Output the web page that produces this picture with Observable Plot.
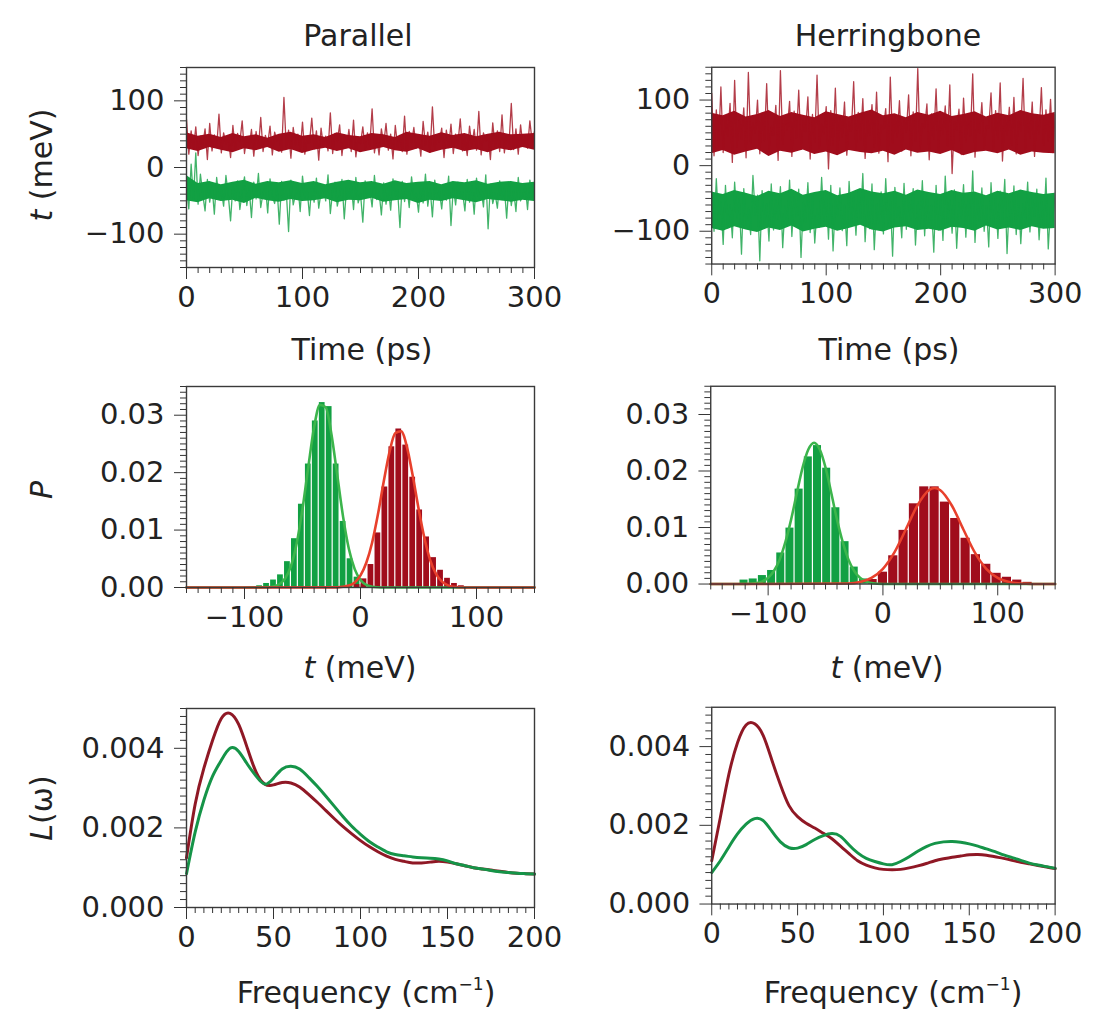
<!DOCTYPE html>
<html><head><meta charset="utf-8">
<script src="https://cdn.jsdelivr.net/npm/d3@7"></script>
<script src="https://cdn.jsdelivr.net/npm/@observablehq/plot@0.6"></script>
<style>
body{margin:0;background:#fff;}
#fig{position:relative;width:1094px;height:1012px;background:#fff;font-family:"DejaVu Sans",sans-serif;color:#222;overflow:hidden;}
.lbl{position:absolute;transform:translate(-50%,-50%);white-space:nowrap;font-size:30px;line-height:1;}
.vl{position:absolute;transform:translate(-50%,-50%) rotate(-90deg);white-space:nowrap;font-size:30px;line-height:1;}
.panel{position:absolute;}
</style></head><body><div id="fig"></div>
<script>
// ---------- Time series (t in meV), sampled every 2 ps, 0..300 ----------
const timeStep = 2;
const parRedT = [72,20,55,28,61,18,47,33,58,12,66,25,49,30,80,22,52,36,44,15,63,27,51,38,70,21,46,31,57,17,
54,29,75,24,48,35,62,19,53,40,45,23,105,30,56,14,60,34,50,26,68,20,43,37,74,28,55,11,59,32,
47,25,82,21,51,39,64,18,49,30,57,24,71,16,45,36,61,27,52,33,88,22,46,19,58,35,66,26,50,13,
63,31,48,24,77,20,54,37,60,29,45,17,69,34,53,23,91,28,47,38,59,15,56,30,65,21,50,36,73,25,
44,18,62,33,57,26,84,19,52,40,48,12,67,31,55,24,79,22,49,35,96,27,58,20,64,32,46,29,70,38,54];
const parGreenT = [-30,-62,5,-48,22,-55,-10,-40,-65,-18,-52,-28,-70,-15,-45,-33,-58,-12,-41,-80,-25,-50,-20,-63,-36,-14,-57,-31,-75,-22,
-47,-9,-60,-38,-26,-68,-17,-43,-54,-29,-85,-21,-49,-35,-96,-19,-56,-40,-27,-66,-13,-46,-33,-72,-24,-52,-16,-61,-37,-28,
-50,-11,-69,-34,-22,-58,-41,-18,-77,-30,-47,-25,-63,-15,-53,-39,-82,-20,-44,-32,-59,-12,-48,-36,-71,-23,-55,-29,-64,-17,
-42,-34,-90,-21,-51,-27,-60,-14,-46,-38,-67,-24,-53,-10,-58,-31,-74,-19,-45,-35,-62,-26,-49,-13,-87,-30,-56,-22,-43,-37,
-65,-18,-52,-28,-70,-16,-47,-33,-59,-11,-92,-25,-54,-39,-61,-20,-48,-30,-76,-23,-57,-34,-66,-15,-50,-41,-27,-63,-19,-45,-36];
const herRedT = [110,15,85,30,120,20,75,45,95,5,130,28,70,40,88,12,142,35,65,50,100,18,80,38,125,22,60,46,92,8,
145,33,72,55,98,14,83,42,115,25,68,52,105,10,78,36,138,27,63,48,90,-5,84,31,118,20,74,44,97,16,
66,53,128,24,81,39,102,11,70,47,93,29,112,19,62,56,87,6,135,34,76,43,99,22,69,51,108,15,82,37,
148,26,64,58,94,9,79,41,117,21,71,49,91,30,123,-12,67,54,86,17,103,36,77,45,140,13,73,50,96,27,
61,57,111,23,84,40,126,7,75,46,89,32,104,18,68,53,133,25,80,42,97,14,74,48,119,31,85,38,101,20,78];
const herGreenT = [-40,-100,-20,-85,-55,-120,-30,-95,-60,-110,-25,-80,-50,-135,-35,-90,-65,-105,-15,-75,-45,-145,-38,-88,-58,-115,-28,-98,-52,-82,
-32,-125,-62,-92,-22,-108,-48,-78,-36,-140,-56,-86,-26,-102,-44,-118,-66,-94,-18,-84,-42,-112,-30,-130,-54,-76,-34,-99,-60,-122,
-24,-89,-46,-106,-38,-81,-12,-116,-52,-96,-28,-128,-58,-87,-40,-104,-20,-92,-50,-138,-33,-79,-63,-110,-27,-97,-45,-83,-35,-121,
-55,-91,-23,-107,-41,-86,-60,-132,-30,-98,-48,-114,-16,-88,-52,-103,-37,-126,-57,-80,-29,-109,-43,-95,-8,-117,-50,-85,-34,-100,
-61,-124,-26,-93,-47,-111,-39,-82,-21,-134,-53,-90,-31,-105,-44,-119,-58,-87,-25,-101,-49,-77,-36,-113,-54,-94,-19,-127,-64,-84,-42];

// dense core of each trace (lower / upper edge), every 10 ps
const bandStep = 10;
const parRedLo = [28,24,30,26,22,28,25,30,23,27,21,26,29,24,28,22,26,30,25,23,28,21,26,29,24,27,22,28,25,30,26];
const parRedHi = [52,47,50,45,51,46,49,44,50,53,47,49,45,52,48,46,51,49,45,53,50,47,52,48,51,46,50,53,49,50,51];
const parGreenLo = [-50,-53,-47,-51,-49,-54,-46,-50,-52,-48,-51,-50,-47,-53,-49,-50,-46,-52,-50,-48,-54,-49,-51,-47,-50,-53,-48,-50,-52,-49,-51];
const parGreenHi = [-12,-24,-21,-26,-22,-19,-25,-21,-23,-20,-24,-21,-26,-22,-19,-23,-21,-25,-20,-24,-22,-21,-26,-21,-23,-20,-25,-22,-21,-24,-22];
const herRedLo = [18,23,16,21,25,14,22,19,24,17,21,15,23,20,18,22,16,24,19,21,17,23,15,20,22,18,24,16,21,19,18];
const herRedHi = [80,76,83,74,78,84,75,81,77,73,82,78,74,80,85,76,79,73,81,77,83,75,78,82,74,80,76,84,79,77,81];
const herGreenLo = [-96,-100,-93,-98,-102,-95,-99,-92,-101,-97,-94,-100,-96,-91,-98,-101,-95,-93,-99,-97,-100,-94,-96,-100,-92,-98,-95,-99,-93,-97,-96];
const herGreenHi = [-40,-44,-38,-42,-47,-39,-43,-36,-45,-41,-38,-46,-42,-35,-40,-43,-39,-45,-37,-41,-44,-38,-42,-40,-46,-39,-43,-37,-41,-44,-42];

// ---------- Histograms P(t) ----------
const parBinWidth = 6;
const parGreenBinC = [-87,-81,-75,-69,-63,-57,-51,-45,-39,-33,-27,-21,-15,-9,-3,3];
const parGreenBinP = [0.0003,0.0007,0.0013,0.0022,0.0045,0.0085,0.0145,0.0215,0.029,0.0322,0.0315,0.0215,0.0115,0.005,0.0018,0.0005];
const parRedBinC = [-3,3,9,15,21,27,33,39,45,51,57,63,69,75,81,87];
const parRedBinP = [0.0005,0.0015,0.004,0.0095,0.0175,0.0245,0.0276,0.0248,0.0192,0.0135,0.0088,0.0052,0.003,0.0016,0.0007,0.0003];
const herGreenBinWidth = 8;
const herGreenBinC = [-121,-113,-105,-97,-89,-81,-73,-65,-57,-49,-41,-33,-25,-17];
const herGreenBinP = [0.0007,0.0009,0.0015,0.0024,0.0055,0.0099,0.0168,0.0225,0.0245,0.0205,0.0135,0.0075,0.003,0.0009];
const herRedBinWidth = 9;
const herRedBinC = [-9,0,9,18,27,36,45,54,63,72,81,90,99,108,117,126];
const herRedBinP = [0.0008,0.0021,0.005,0.0095,0.0142,0.0172,0.0172,0.0145,0.0116,0.0081,0.0052,0.0035,0.0019,0.0012,0.0007,0.0003];

// Gaussian fits
const parGreenFitX = [-150,-100,-90,-80,-75,-70,-65,-60,-55,-50,-45,-40,-35,-30,-25,-20,-15,-10,-5,0,5,10,15,20,150];
const parGreenFitP = [0,0,0.00002,0.00005,0.00017,0.00056,0.00156,0.0037,0.0077,0.0137,0.021,0.0279,0.0318,0.0314,0.0266,0.0195,0.0123,0.0067,0.0032,0.0013,0.00045,0.00014,0.00004,0.00001,0];
const parRedFitX = [-150,-20,-10,-5,0,5,10,15,20,25,30,35,40,45,50,55,60,65,70,75,80,90,150];
const parRedFitP = [0,0.00003,0.00034,0.00088,0.0021,0.0043,0.0078,0.0127,0.0184,0.0236,0.0269,0.0272,0.0245,0.0195,0.0138,0.0087,0.0048,0.0024,0.00106,0.00041,0.00014,0.00001,0];
const herGreenFitX = [-150,-130,-120,-110,-105,-100,-95,-90,-85,-80,-75,-70,-65,-60,-55,-50,-45,-40,-35,-30,-25,-20,-15,-10,0,150];
const herGreenFitP = [0,0,0.00002,0.00019,0.00048,0.0011,0.0023,0.0043,0.0074,0.0114,0.0161,0.0206,0.0238,0.025,0.0238,0.0206,0.0161,0.0114,0.0074,0.0043,0.0023,0.0011,0.00048,0.00019,0.00002,0];
const herRedFitX = [-150,-30,-20,-10,0,10,20,30,40,45,50,60,70,80,90,100,110,120,130,150];
const herRedFitP = [0,0.0001,0.00037,0.0011,0.0027,0.0056,0.0097,0.0139,0.0166,0.017,0.0166,0.0139,0.0097,0.0056,0.0027,0.0011,0.00037,0.0001,0.00002,0];

// ---------- L(omega), frequency 0..200 cm-1 every 5 ----------
const freqStep = 5;
const parRedL = [0.00125,0.0026,0.0035,0.0042,0.00475,0.00488,0.0046,0.004,0.0034,0.0031,0.00308,0.00314,0.00313,0.00303,0.00285,0.00265,0.00244,0.00223,0.00203,0.00185,0.00168,0.00153,0.0014,0.00129,0.00121,0.00116,0.00112,0.00112,0.00114,0.00116,0.00114,0.0011,0.00105,0.001,0.00097,0.00094,0.00091,0.00088,0.00086,0.00085,0.00084];
const parGreenL = [0.00085,0.0019,0.0027,0.0033,0.0037,0.004,0.00392,0.0036,0.0033,0.0031,0.00325,0.00348,0.00355,0.00348,0.00328,0.00305,0.0028,0.00254,0.00228,0.00204,0.00184,0.00166,0.00152,0.0014,0.00133,0.0013,0.00127,0.00125,0.00124,0.00122,0.00117,0.0011,0.00105,0.001,0.00097,0.00093,0.0009,0.00088,0.00086,0.00085,0.00084];
const herRedL = [0.0011,0.0022,0.0033,0.0041,0.00455,0.00458,0.00428,0.00366,0.00303,0.0025,0.00222,0.00205,0.00193,0.0018,0.00166,0.00147,0.00128,0.0011,0.00099,0.00092,0.00088,0.00087,0.00088,0.00092,0.00097,0.00103,0.0011,0.00115,0.00119,0.00122,0.00125,0.00126,0.00124,0.0012,0.00116,0.00111,0.00106,0.00102,0.00098,0.00094,0.0009];
const herGreenL = [0.0008,0.0011,0.00145,0.00178,0.00203,0.00217,0.00212,0.00185,0.00158,0.00143,0.00142,0.00151,0.00164,0.00174,0.00179,0.00172,0.0015,0.0013,0.00116,0.00108,0.00102,0.001,0.00108,0.0012,0.00134,0.00146,0.00154,0.00158,0.00159,0.00157,0.00153,0.00147,0.0014,0.00133,0.00125,0.00118,0.00111,0.00104,0.00099,0.00095,0.00091];

// ---------- colours ----------
const RED = "#a00d1c", GREEN = "#12a043", FITRED = "#e8402c", FITGREEN = "#3cb54c";
const LRED = "#8f1825", LGREEN = "#159448";

const fig = document.getElementById("fig");
const ML = 110, MR = 40, MT = 15, MB = 60;
const FONT = "'DejaVu Sans', sans-serif";
const fmtInt = d => d < 0 ? "\u2212" + Math.abs(d) : String(d);

function minor(lo, hi, step, majors) {
  const out = [];
  for (let v = lo; v <= hi + step * 1e-6; v += step) {
    const r = Math.round(v / step) * step;
    if (!majors.some(m => Math.abs(m - r) < step * 1e-3)) out.push(+r.toFixed(6));
  }
  return out;
}

function panel(o) {
  const svg = Plot.plot({
    width: ML + o.w + MR, height: MT + o.h + MB,
    marginLeft: ML, marginRight: MR, marginTop: MT, marginBottom: MB,
    style: {fontFamily: FONT, fontSize: "29px", color: "#222", background: "transparent", overflow: "visible"},
    x: {domain: o.xDomain},
    y: {domain: o.yDomain},
    marks: [
      ...o.marks,
      Plot.frame({stroke: "#3a3a3a", strokeWidth: 1.4}),
      Plot.axisX(o.xMinor, {tickSize: 6, tickFormat: () => "", label: null, stroke: "#333"}),
      Plot.axisX(o.xTicks, {tickSize: 12, tickPadding: 7, fontSize: 29, label: null, tickFormat: o.xFmt, stroke: "#333"}),
      Plot.axisY(o.yMinor, {tickSize: 6, tickFormat: () => "", label: null, stroke: "#333"}),
      Plot.axisY(o.yTicks, {tickSize: 12, tickPadding: 10, fontSize: 29, label: null, tickFormat: o.yFmt, stroke: "#333"})
    ]
  });
  const div = document.createElement("div");
  div.className = "panel";
  div.style.left = (o.left - ML) + "px";
  div.style.top = (o.top - MT) + "px";
  div.appendChild(svg);
  fig.appendChild(div);
}

function series(vals, step) { return vals.map((v, i) => ({x: i * step, y: v})); }
function band(lo, hi, step) { return lo.map((v, i) => ({x: i * step, lo: v, hi: hi[i]})); }
function bins(cs, ps, w) { return cs.map((c, i) => ({x1: c - w / 2, x2: c + w / 2, p: ps[i]})); }
function pairs(xs, ys) { return xs.map((x, i) => ({x, y: ys[i]})); }

const tTicks = [0, 100, 200, 300], tMinor = minor(0, 300, 10, tTicks);
const yTT = [-100, 0, 100], yTMinor = minor(-150, 150, 10, yTT);
const eTicks = [-100, 0, 100], eMinor = minor(-150, 150, 10, eTicks);
const pTicks = [0, 0.01, 0.02, 0.03], pMinor = minor(0, 0.035, 0.001, pTicks);
const fTicks = [0, 50, 100, 150, 200], fMinor = minor(0, 200, 5, fTicks);
const lTicks = [0, 0.002, 0.004], lMinor = minor(0, 0.005, 0.0002, lTicks);

function timePanel(left, w, red, redLo, redHi, green, greenLo, greenHi) {
  panel({left, top: 67, w, h: 200, xDomain: [0, 300], yDomain: [-150, 150],
    xTicks: tTicks, xMinor: tMinor, yTicks: yTT, yMinor: yTMinor, xFmt: fmtInt, yFmt: fmtInt,
    marks: [
      Plot.areaY(band(redLo, redHi, bandStep), {x: "x", y1: "lo", y2: "hi", fill: RED}),
      Plot.line(series(red, timeStep), {x: "x", y: "y", stroke: RED, strokeOpacity: 0.8, strokeWidth: 1.3, clip: true}),
      Plot.areaY(band(greenLo, greenHi, bandStep), {x: "x", y1: "lo", y2: "hi", fill: GREEN}),
      Plot.line(series(green, timeStep), {x: "x", y: "y", stroke: GREEN, strokeOpacity: 0.8, strokeWidth: 1.3, clip: true})
    ]});
}
function histPanel(left, w, top, h, gb, rb, gf, rf) {
  panel({left, top, w, h, xDomain: [-150, 150], yDomain: [0, 0.035],
    xTicks: eTicks, xMinor: eMinor, yTicks: pTicks, yMinor: pMinor, xFmt: fmtInt, yFmt: d3.format(".2f"),
    marks: [
      Plot.rectY(gb, {x1: "x1", x2: "x2", y: "p", fill: GREEN, insetLeft: 0.6, insetRight: 0.6}),
      Plot.rectY(rb, {x1: "x1", x2: "x2", y: "p", fill: RED, insetLeft: 0.6, insetRight: 0.6}),
      Plot.line(gf, {x: "x", y: "y", stroke: FITGREEN, strokeWidth: 2.6, curve: "monotone-x"}),
      Plot.line(rf, {x: "x", y: "y", stroke: FITRED, strokeWidth: 2.6, curve: "monotone-x"})
    ]});
}
function specPanel(left, w, top, h, red, green) {
  panel({left, top, w, h, xDomain: [0, 200], yDomain: [0, 0.005],
    xTicks: fTicks, xMinor: fMinor, yTicks: lTicks, yMinor: lMinor, xFmt: fmtInt, yFmt: d3.format(".3f"),
    marks: [
      Plot.line(series(red, freqStep), {x: "x", y: "y", stroke: LRED, strokeWidth: 3, curve: "natural"}),
      Plot.line(series(green, freqStep), {x: "x", y: "y", stroke: LGREEN, strokeWidth: 3, curve: "natural"})
    ]});
}

timePanel(186, 348, parRedT, parRedLo, parRedHi, parGreenT, parGreenLo, parGreenHi);
timePanel(713, 349, herRedT, herRedLo, herRedHi, herGreenT, herGreenLo, herGreenHi);
histPanel(186, 348, 386, 201,
  bins(parGreenBinC, parGreenBinP, parBinWidth), bins(parRedBinC, parRedBinP, parBinWidth),
  pairs(parGreenFitX, parGreenFitP), pairs(parRedFitX, parRedFitP));
histPanel(712, 350, 386, 201,
  bins(herGreenBinC, herGreenBinP, herGreenBinWidth), bins(herRedBinC, herRedBinP, herRedBinWidth),
  pairs(herGreenFitX, herGreenFitP), pairs(herRedFitX, herRedFitP));
specPanel(186, 348, 708, 199, parRedL, parGreenL);
specPanel(713, 349, 707, 200, herRedL, herGreenL);

// ---------- text ----------
function label(html, x, y, cls) {
  const d = document.createElement("div");
  d.className = cls || "lbl";
  d.style.left = x + "px"; d.style.top = y + "px";
  d.innerHTML = html;
  fig.appendChild(d);
}
label("Parallel", 358, 36);
label("Herringbone", 888, 36);
label("Time (ps)", 362, 350);
label("Time (ps)", 889, 350);
label("<i>t</i> (meV)", 360, 668);
label("<i>t</i> (meV)", 887, 668);
label("Frequency (cm<sup style='font-size:17px;vertical-align:13px'>\u22121</sup>)", 366, 992);
label("Frequency (cm<sup style='font-size:17px;vertical-align:13px'>\u22121</sup>)", 893, 992);
label("<i>t</i> (meV)", 42, 165, "vl");
label("<i>P</i>", 42, 490, "vl");
label("<i>L</i>(\u03c9)", 42, 808, "vl");
</script></body></html>
